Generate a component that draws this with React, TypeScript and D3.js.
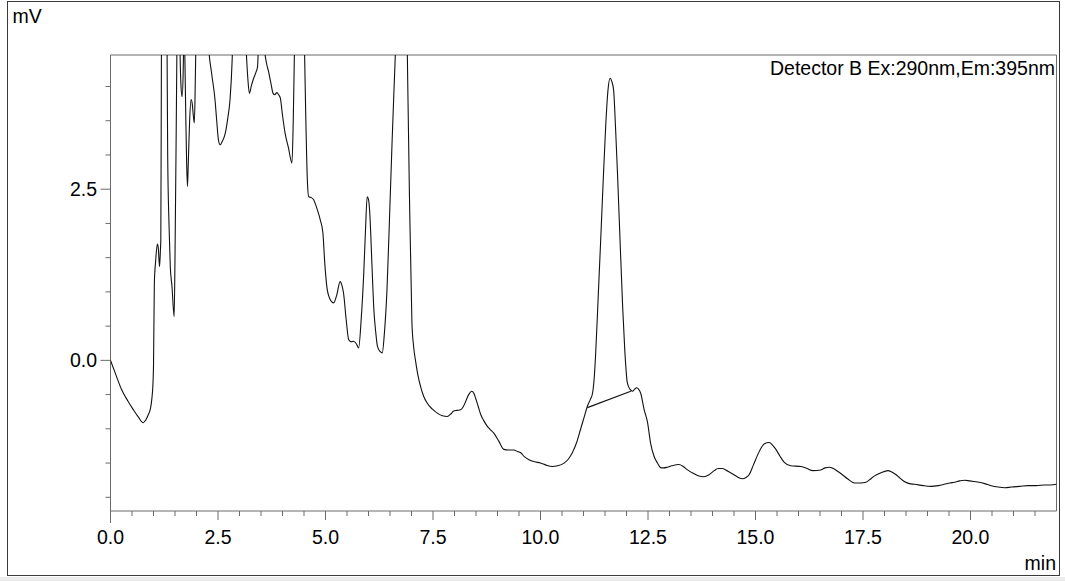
import React, { useEffect, useRef } from 'react';
import * as d3 from 'd3';

// retention time (min) and detector signal (mV)
const retention = [
  0.0, 0.13, 0.26, 0.4, 0.53, 0.65, 0.76, 0.82, 0.88, 0.93, 0.96, 0.99, 1.0, 1.02, 1.05, 1.09, 1.11, 1.14, 1.16, 1.17,
  1.185, 1.25, 1.315, 1.33, 1.36, 1.39, 1.43, 1.48, 1.5, 1.53, 1.545, 1.58, 1.615, 1.64, 1.665, 1.69, 1.7, 1.71, 1.725,
  1.75, 1.77, 1.79, 1.81, 1.84, 1.875, 1.9, 1.93, 1.95, 1.97, 1.985, 2.13, 2.28, 2.35, 2.43, 2.47, 2.51, 2.55, 2.6,
  2.67, 2.73, 2.78, 2.83, 2.84, 3.0, 3.15, 3.19, 3.23, 3.28, 3.33, 3.39, 3.42, 3.44, 3.51, 3.575, 3.625, 3.675, 3.73,
  3.78, 3.82, 3.87, 3.91, 3.95, 4.0, 4.06, 4.14, 4.22, 4.25, 4.28, 4.4, 4.51, 4.54, 4.58, 4.61, 4.66, 4.72, 4.8, 4.88,
  4.94, 4.98, 5.03, 5.1, 5.19, 5.26, 5.34, 5.38, 5.42, 5.48, 5.54, 5.6, 5.65, 5.72, 5.77, 5.83, 5.89, 5.93, 5.97, 6.0,
  6.03, 6.08, 6.12, 6.17, 6.21, 6.27, 6.32, 6.37, 6.43, 6.49, 6.55, 6.59, 6.63, 6.765, 6.9, 6.95, 7.01, 7.05, 7.09,
  7.15, 7.21, 7.28, 7.36, 7.48, 7.6, 7.72, 7.83, 7.92, 7.98, 8.06, 8.14, 8.2, 8.26, 8.33, 8.4, 8.45, 8.49, 8.55, 8.61,
  8.68, 8.76, 8.83, 8.91, 9.03, 9.15, 9.25, 9.38, 9.46, 9.54, 9.63, 9.73, 9.86, 10.0, 10.13, 10.27, 10.4, 10.55, 10.65,
  10.74, 10.84, 10.93, 11.01, 11.09, 11.16, 11.21, 11.25, 11.28, 11.34, 11.4, 11.46, 11.52, 11.57, 11.62, 11.66, 11.7,
  11.745, 11.79, 11.85, 11.91, 11.96, 12.02, 12.08, 12.14, 12.19, 12.24, 12.28, 12.33, 12.41, 12.49, 12.56, 12.64,
  12.72, 12.8, 12.87, 12.95, 13.05, 13.22, 13.32, 13.42, 13.55, 13.65, 13.8, 13.92, 14.04, 14.13, 14.23, 14.36, 14.5,
  14.6, 14.7, 14.78, 14.85, 14.95, 15.05, 15.13, 15.2, 15.32, 15.4, 15.475, 15.57, 15.67, 15.82, 16.06, 16.2, 16.33,
  16.52, 16.62, 16.72, 16.81, 16.91, 17.02, 17.14, 17.3, 17.45, 17.57, 17.66, 17.76, 17.92, 18.08, 18.17, 18.27, 18.36,
  18.46, 18.58, 18.7, 18.9, 19.08, 19.25, 19.39, 19.52, 19.63, 19.75, 19.86, 19.98, 20.09, 20.2, 20.33, 20.48, 20.64,
  20.8, 20.95, 21.15, 21.34, 21.53, 21.72, 21.86, 22.0,
];
const signal = [
  0.0, -0.22, -0.43, -0.59, -0.72, -0.83, -0.91, -0.87, -0.79, -0.7, -0.57, -0.3, -0.09, 1.13, 1.45, 1.7, 1.65, 1.37,
  1.6, 1.76, 4.6, 9.0, 4.6, 3.0, 2.0, 1.37, 1.08, 0.64, 1.5, 3.5, 4.6, 7.0, 4.6, 4.0, 3.85, 4.2, 4.6, 5.0, 4.6, 3.6,
  2.9, 2.54, 2.9, 3.5, 3.81, 3.75, 3.55, 3.47, 4.0, 4.6, 8.0, 4.6, 4.2, 3.81, 3.5, 3.22, 3.15, 3.2, 3.32, 3.55, 3.81,
  4.4, 4.6, 7.0, 4.6, 4.15, 3.9, 4.02, 4.12, 4.22, 4.29, 4.6, 6.0, 4.6, 4.35, 4.22, 4.05, 3.9, 3.88, 3.91, 3.88, 3.83,
  3.58, 3.32, 3.1, 2.88, 3.5, 4.6, 9.0, 4.6, 3.6, 2.6, 2.39, 2.38, 2.35, 2.22, 2.05, 1.86, 1.45, 1.08, 0.9, 0.84, 0.95,
  1.15, 1.1, 0.98, 0.6, 0.3, 0.27, 0.28, 0.24, 0.18, 0.6, 1.28, 1.9, 2.39, 2.35, 2.15, 1.4, 0.79, 0.4, 0.2, 0.13, 0.11,
  0.4, 1.03, 2.1, 3.22, 3.9, 4.6, 10.0, 4.6, 2.5, 0.55, 0.2, 0.01, -0.22, -0.38, -0.52, -0.62, -0.71, -0.77, -0.81,
  -0.82, -0.78, -0.74, -0.73, -0.72, -0.68, -0.6, -0.5, -0.45, -0.48, -0.55, -0.67, -0.79, -0.88, -0.96, -1.01, -1.06,
  -1.18, -1.3, -1.31, -1.31, -1.33, -1.35, -1.41, -1.45, -1.48, -1.5, -1.53, -1.55, -1.54, -1.5, -1.44, -1.35, -1.2,
  -1.01, -0.84, -0.67, -0.57, -0.48, -0.25, 0.06, 0.9, 1.76, 2.65, 3.47, 3.95, 4.12, 4.07, 3.95, 3.4, 2.74, 1.75, 0.79,
  0.15, -0.33, -0.42, -0.45, -0.42, -0.4, -0.42, -0.48, -0.72, -0.91, -1.21, -1.4, -1.5, -1.57, -1.57, -1.56, -1.54,
  -1.52, -1.55, -1.6, -1.65, -1.68, -1.7, -1.67, -1.61, -1.58, -1.58, -1.62, -1.67, -1.71, -1.73, -1.71, -1.67, -1.53,
  -1.38, -1.28, -1.22, -1.2, -1.24, -1.3, -1.4, -1.49, -1.54, -1.55, -1.58, -1.61, -1.6, -1.57, -1.56, -1.58, -1.62,
  -1.67, -1.73, -1.79, -1.79, -1.78, -1.74, -1.69, -1.64, -1.61, -1.63, -1.67, -1.72, -1.77, -1.8, -1.81, -1.83, -1.84,
  -1.83, -1.81, -1.79, -1.78, -1.76, -1.75, -1.76, -1.77, -1.78, -1.8, -1.83, -1.85, -1.86, -1.85, -1.84, -1.83, -1.83,
  -1.82, -1.82, -1.81,
];

// integration baseline under the 11.6 min peak
const baselineTime = [11.09, 12.1];
const baselineSignal = [-0.69, -0.45];

const xMajorTicks = [0, 2.5, 5, 7.5, 10, 12.5, 15, 17.5, 20];
const xMinorTicks = d3.range(0.5, 22, 0.5).filter((t) => !xMajorTicks.includes(t));
const yMajorTicks = [0, 2.5];
const yMinorTicks = [-2, -1.5, -1, -0.5, 0.5, 1, 1.5, 2, 3, 3.5, 4];

const detectorLabel = 'Detector B Ex:290nm,Em:395nm';

const App = () => {
  const ref = useRef<SVGSVGElement>(null);
  const width = 1065;
  const height = 581;
  const plot = { left: 110.5, right: 1056.5, top: 55, bottom: 511 };
  const font = '"Liberation Sans", Arial, sans-serif';
  const fontSize = '19.5px';
  const axisColor = '#6a6a6a';

  useEffect(() => {
    const svg = d3.select(ref.current);
    svg.selectAll('*').remove();

    const x = d3.scaleLinear().domain([0, 22]).range([plot.left, plot.right]);
    const y = d3.scaleLinear().domain([-2.2, 4.46]).range([plot.bottom, plot.top]);

    // outer frame
    svg
      .append('rect')
      .attr('x', 7.5)
      .attr('y', 1.5)
      .attr('width', 1052)
      .attr('height', 574)
      .attr('fill', '#fff')
      .attr('stroke', '#3a3a3a');
    svg
      .append('rect')
      .attr('x', 0)
      .attr('y', 577)
      .attr('width', width)
      .attr('height', 4)
      .attr('fill', '#ececec');

    svg
      .append('defs')
      .append('clipPath')
      .attr('id', 'plot-clip')
      .append('rect')
      .attr('x', plot.left)
      .attr('y', plot.top)
      .attr('width', plot.right - plot.left)
      .attr('height', plot.bottom - plot.top);

    // plot box: top and right edges
    svg
      .append('path')
      .attr('d', `M${plot.left},${plot.top}H${plot.right}V${plot.bottom}`)
      .attr('fill', 'none')
      .attr('stroke', axisColor);

    // x axis
    svg
      .append('line')
      .attr('x1', plot.left)
      .attr('x2', plot.right)
      .attr('y1', plot.bottom)
      .attr('y2', plot.bottom)
      .attr('stroke', axisColor);
    xMajorTicks.forEach((t) => {
      svg
        .append('line')
        .attr('x1', x(t))
        .attr('x2', x(t))
        .attr('y1', plot.bottom)
        .attr('y2', plot.bottom + (t === 0 ? 12 : 9))
        .attr('stroke', axisColor);
      svg
        .append('text')
        .attr('x', x(t))
        .attr('y', 544)
        .attr('text-anchor', 'middle')
        .style('font-family', font)
        .style('font-size', fontSize)
        .text(t.toFixed(1));
    });
    xMinorTicks.forEach((t) => {
      svg
        .append('line')
        .attr('x1', x(t))
        .attr('x2', x(t))
        .attr('y1', plot.bottom)
        .attr('y2', plot.bottom + 5)
        .attr('stroke', axisColor);
    });

    // y axis
    svg
      .append('line')
      .attr('x1', plot.left)
      .attr('x2', plot.left)
      .attr('y1', plot.top)
      .attr('y2', plot.bottom)
      .attr('stroke', axisColor);
    yMajorTicks.forEach((v) => {
      svg
        .append('line')
        .attr('x1', plot.left - 10)
        .attr('x2', plot.left)
        .attr('y1', y(v))
        .attr('y2', y(v))
        .attr('stroke', axisColor);
      svg
        .append('text')
        .attr('x', 97)
        .attr('y', y(v))
        .attr('dy', '0.36em')
        .attr('text-anchor', 'end')
        .style('font-family', font)
        .style('font-size', fontSize)
        .text(v.toFixed(1));
    });
    yMinorTicks.forEach((v) => {
      svg
        .append('line')
        .attr('x1', plot.left - 5)
        .attr('x2', plot.left)
        .attr('y1', y(v))
        .attr('y2', y(v))
        .attr('stroke', axisColor);
    });

    // chromatogram trace
    const points: [number, number][] = retention.map((t, i) => [t, signal[i]]);
    const line = d3
      .line<[number, number]>()
      .x((d) => x(d[0]))
      .y((d) => y(d[1]))
      .curve(d3.curveMonotoneX);

    const g = svg.append('g').attr('clip-path', 'url(#plot-clip)');
    g.append('path')
      .datum(points)
      .attr('fill', 'none')
      .attr('stroke', '#111')
      .attr('stroke-width', 1.1)
      .attr('d', line);

    g.append('line')
      .attr('x1', x(baselineTime[0]))
      .attr('y1', y(baselineSignal[0]))
      .attr('x2', x(baselineTime[1]))
      .attr('y2', y(baselineSignal[1]))
      .attr('stroke', '#111')
      .attr('stroke-width', 1.1);

    // labels
    svg
      .append('text')
      .attr('x', 12.5)
      .attr('y', 23)
      .style('font-family', font)
      .style('font-size', fontSize)
      .text('mV');
    svg
      .append('text')
      .attr('x', 1056)
      .attr('y', 570)
      .attr('text-anchor', 'end')
      .style('font-family', font)
      .style('font-size', fontSize)
      .text('min');
    svg
      .append('text')
      .attr('x', 1055)
      .attr('y', 75)
      .attr('text-anchor', 'end')
      .style('font-family', font)
      .style('font-size', fontSize)
      .text(detectorLabel);
  }, []);

  return (
    <div style={{ position: 'fixed', left: 0, top: 0, width, height, background: '#fff' }}>
      <svg ref={ref} width={width} height={height} style={{ display: 'block' }} />
    </div>
  );
};

export default App;
